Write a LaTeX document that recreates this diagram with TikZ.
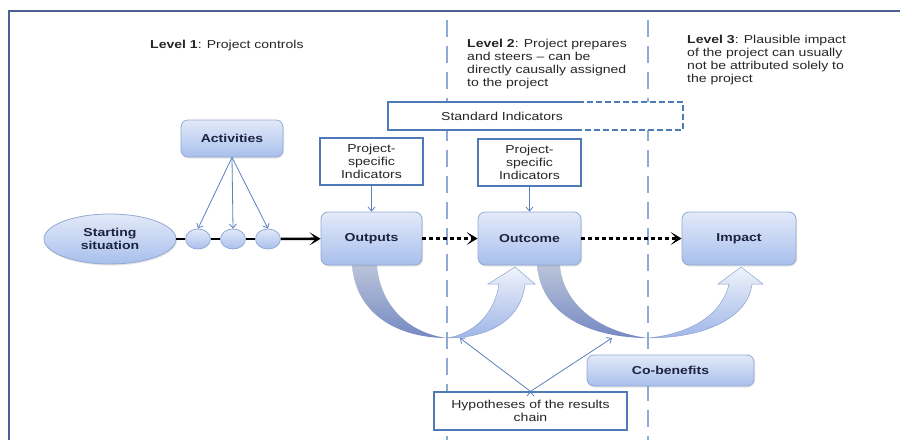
\documentclass[tikz,border=0pt]{standalone}
\usepackage{fontspec}
\setmainfont{Liberation Sans}[FakeStretch=1.22]
\usetikzlibrary{arrows.meta,shapes.geometric,shadows,positioning}
\tikzset{>=Stealth}
\definecolor{phasetop}{HTML}{E3EAF9}
\definecolor{phasebot}{HTML}{A8BFEC}
\definecolor{phaseline}{HTML}{93A9D3}
\definecolor{phasetext}{HTML}{1B2340}
\definecolor{indline}{HTML}{4F7AB6}
\definecolor{thinline}{HTML}{5A80BE}
\definecolor{levelline}{HTML}{8FAAD5}
\definecolor{frameline}{HTML}{4D6290}
\definecolor{darktop}{HTML}{BAC4DA}
\definecolor{darkbot}{HTML}{7589C2}
\definecolor{lighttop}{HTML}{EFF3FB}
\definecolor{lightbot}{HTML}{9FB6E8}
\definecolor{lightline}{HTML}{8EA4CF}
\newcommand{\diagfont}{\fontsize{11.5}{13}\selectfont}

\begin{document}
\begin{tikzpicture}[x=1pt, y=-1pt, font=\diagfont,
	phase/.style={rectangle, rounded corners=7pt, draw=phaseline, line width=0.8pt, top color=phasetop, bottom color=phasebot, text=phasetext, font=\diagfont\bfseries, align=center, drop shadow={shadow xshift=1pt, shadow yshift=-1.5pt, opacity=0.2}},
	indic/.style={rectangle, draw=indline, line width=1.2pt, fill=white, text=black!85, align=center},
	dot/.style={ellipse, draw=phaseline, line width=0.8pt, top color=phasetop, bottom color=phasebot, minimum width=25pt, minimum height=20pt, inner sep=0pt},
	thin/.style={-{Straight Barb[length=4pt,width=7pt]}, draw=thinline, line width=0.8pt},
	chain/.style={line width=2.6pt, black},
	chainarrow/.style={chain, -{Stealth[length=11pt,width=13pt,inset=6pt]}},
	maybe/.style={chainarrow, line width=3pt, dash pattern=on 3.5pt off 3.5pt},
	levelsep/.style={draw=levelline, line width=1.8pt, dash pattern=on 17pt off 9pt},
	leveltext/.style={anchor=north west, align=left, inner sep=0pt, text=black!85},
	node distance=35pt, on grid]
	\useasboundingbox (0,0) rectangle (900,440);
	\draw[frameline, line width=1.3pt] (900,11) -- (9,11) -- (9,440);
	\draw[levelsep] (447,20) -- (447,440);
	\draw[levelsep] (648,20) -- (648,440);

	% curved arrows of the results chain
	\shade[top color=darktop, bottom color=darkbot] (352,265) .. controls (356,316) and (400,338) .. (447,338) .. controls (408,333) and (380,305) .. (377,265) -- cycle;
	\shade[top color=lighttop, bottom color=lightbot, draw=lightline, line width=0.5pt] (447,338) .. controls (494,338) and (522,316) .. (525,284) -- (535,284) -- (515,267) -- (488,284) -- (499,284) .. controls (495,313) and (474,334) .. (447,338) -- cycle;
	\shade[top color=darktop, bottom color=darkbot] (537,265) .. controls (541,318) and (595,338) .. (648,338) .. controls (600,332) and (563,305) .. (560,265) -- cycle;
	\shade[top color=lighttop, bottom color=lightbot, draw=lightline, line width=0.5pt] (648,338) .. controls (705,338) and (748,318) .. (752,284) -- (763,284) -- (741,267) -- (718,284) -- (729,284) .. controls (722,315) and (690,334) .. (648,338) -- cycle;

	\node[leveltext, anchor=base west] (lev1) at (150,48) {\textbf{Level 1}: Project controls};
	\node[leveltext] (lev2) at (467,38.5) {\textbf{Level 2}: Project prepares\\and steers -- can be\\directly causally assigned\\to the project};
	\node[leveltext] (lev3) at (687,34.5) {\textbf{Level 3}: Plausible impact\\of the project can usually\\not be attributed solely to\\the project};

	\fill[white] (388,102) rectangle (683,130);
	\draw[indline, line width=1.2pt] (578,102) -- (388,102) -- (388,130) -- (578,130);
	\draw[indline, line width=1.2pt, dash pattern=on 6pt off 3pt] (578,102) -- (683,102) -- (683,130) -- (578,130);
	\node[text=black!85] (std) at (502,116) {Standard Indicators};

	\node[phase, minimum width=102pt, minimum height=37pt] (act) at (232,138.5) {Activities};
	\node[ellipse, draw=phaseline, line width=0.8pt, top color=phasetop, bottom color=phasebot, text=phasetext, font=\diagfont\bfseries, align=center, minimum width=132pt, minimum height=50pt, inner sep=0pt, drop shadow={shadow xshift=1pt, shadow yshift=-1.5pt, opacity=0.2}] (start) at (110,239) {Starting\\situation};
	\node[dot] (c1) at (198,239) {};
	\node[dot] (c2) [right=of c1] {};
	\node[dot] (c3) [right=of c2] {};

	\node[phase, minimum width=101pt, minimum height=53pt] (outputs) at (371.5,238.5) {Outputs};
	\node[phase, minimum width=103pt, minimum height=53pt] (outcome) at (529.5,238.5) {Outcome};
	\node[phase, minimum width=114pt, minimum height=53pt] (impact) at (739,238.5) {Impact};
	\node[indic, minimum width=103pt, minimum height=47pt] (ind1) [above=77pt of outputs] {Project-\\specific\\Indicators};
	\node[indic, minimum width=103pt, minimum height=47pt] (ind2) [above=76pt of outcome] {Project-\\specific\\Indicators};
	\node[phase, minimum width=167pt, minimum height=31pt] (cob) at (670.5,370.5) {Co-benefits};
	\node[indic, minimum width=193pt, minimum height=38pt] (hyp) at (530.5,411) {Hypotheses of the results\\chain};
	\coordinate (hyp1) at (460,338);
	\coordinate (hyp2) at (612,338);

	\draw[chain] (start) -- (c1) -- (c2) -- (c3);
	\draw[chainarrow] (c3) -- (outputs);
	\draw[maybe] (outputs) -- (outcome);
	\draw[maybe] (outcome) -- (impact);
	\path[thin]
		(act.south) edge (c1.north)
		(act.south) edge (c2.north)
		(act.south) edge (c3.north)
		(ind1) edge (outputs)
		(ind2) edge (outcome)
		(hyp.north) edge (hyp1)
		(hyp.north) edge (hyp2);
\end{tikzpicture}
\end{document}
